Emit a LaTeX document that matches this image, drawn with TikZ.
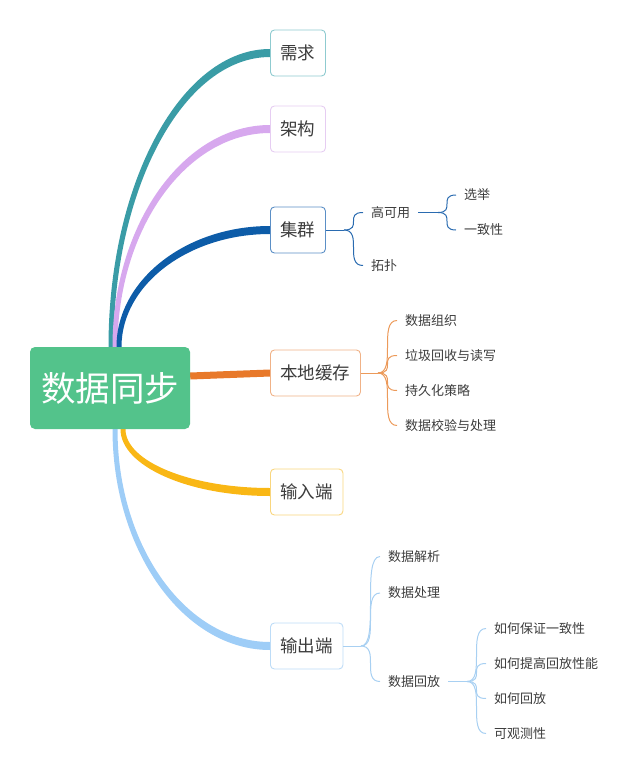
\documentclass[tikz,border=0pt]{standalone}
\usepackage{fontspec}
\setmainfont{Noto Sans CJK SC}
\usetikzlibrary{calc,backgrounds}
\definecolor{rootgreen}{HTML}{53C38B}
\definecolor{cteal}{HTML}{3A9CA6}
\definecolor{cteallt}{HTML}{8FCBD0}
\definecolor{clilac}{HTML}{D7A8EE}
\definecolor{clilaclt}{HTML}{E6CDF2}
\definecolor{cdblue}{HTML}{0D5CA8}
\definecolor{cdbluelt}{HTML}{5B8FC6}
\definecolor{cdbluesub}{HTML}{2A6BB0}
\definecolor{corange}{HTML}{E8792A}
\definecolor{corangelt}{HTML}{F0B287}
\definecolor{corangesub}{HTML}{EC9A5A}
\definecolor{cyellow}{HTML}{F9B715}
\definecolor{cyellowlt}{HTML}{F9D67E}
\definecolor{clblue}{HTML}{9ECDF7}
\definecolor{clbluelt}{HTML}{BDDCF7}
\definecolor{clbluesub}{HTML}{A8D0F2}
\definecolor{textgray}{HTML}{3C3C3C}
% tapered main branch: colour, start coordinate, end anchor, sign (1 = up, -1 = down)
\newcommand\taperbranch[4]{%
  \coordinate (tbp1) at ([xshift=-2.5pt]#2);
  \coordinate (tbp2) at ([xshift=2.5pt]#2);
  \coordinate (tbq1) at ([yshift=#4*4pt]#3);
  \coordinate (tbq2) at ([yshift=-#4*4pt]#3);
  \fill[#1] (tbp1) to[ell] (tbq1) -- (tbq2) to[ellr] (tbp2) -- cycle;
}
\begin{document}
\begin{tikzpicture}[x=1pt,y=-1pt,
  rootbox/.style={fill=rootgreen, rounded corners=5pt, minimum width=160pt, minimum height=82pt,
    text=white, font=\fontsize{34.5}{40}\selectfont, inner sep=0pt},
  topic/.style={draw=#1, line width=0.9pt, fill=white, rounded corners=4pt, minimum height=46pt,
    inner xsep=10pt, anchor=west, text=textgray, font=\fontsize{17.5}{21}\selectfont},
  leaf/.style={anchor=west, inner xsep=8pt, inner ysep=2pt, text=textgray,
    font=\fontsize{13}{16}\selectfont},
  subbr/.style={draw=#1, line width=1pt},
  stembr/.style={draw=#1, line width=1.6pt},
  ell/.style={to path={.. controls ($(\tikztostart)!0.55!(\tikztostart|-\tikztotarget)$)
     and ($(\tikztotarget)!0.55!(\tikztostart|-\tikztotarget)$) .. (\tikztotarget)}},
  ellr/.style={to path={.. controls ($(\tikztostart)!0.55!(\tikztotarget|-\tikztostart)$)
     and ($(\tikztotarget)!0.55!(\tikztotarget|-\tikztostart)$) .. (\tikztotarget)}},
  brace/.style={to path={.. controls (\tikztostart -| \tikztotarget)
     and (\tikztotarget -| \tikztostart) .. (\tikztotarget)}}
]
\useasboundingbox (0,0) rectangle (637,776);

% root and topics
\node[rootbox] (root) at (110,388) {数据同步};
\node[topic=cteallt] (n1) at (270,53) {需求};
\node[topic=clilaclt] (n2) at (270,129) {架构};
\node[topic=cdbluelt] (n3) at (270,230) {集群};
\node[topic=corangelt] (n4) at (270,373) {本地缓存};
\node[topic=cyellowlt] (n5) at (270,492) {输入端};
\node[topic=clbluelt] (n6) at (270,646) {输出端};

% leaves
\node[leaf] (c31) at (363,212.5) {高可用};
\node[leaf] (c32) at (363,265.5) {拓扑};
\node[leaf] (c311) at (456,195) {选举};
\node[leaf] (c312) at (456,230) {一致性};

\node[leaf] (c41) at (397,320.5) {数据组织};
\node[leaf] (c42) at (397,355.5) {垃圾回收与读写};
\node[leaf] (c43) at (397,390.5) {持久化策略};
\node[leaf] (c44) at (397,425.5) {数据校验与处理};

\node[leaf] (c61) at (380,556.5) {数据解析};
\node[leaf] (c62) at (380,593) {数据处理};
\node[leaf] (c63) at (380,681.5) {数据回放};
\node[leaf] (c631) at (486,628.5) {如何保证一致性};
\node[leaf] (c632) at (486,663.5) {如何提高回放性能};
\node[leaf] (c633) at (486,698.5) {如何回放};
\node[leaf] (c634) at (486,733.5) {可观测性};

% fork points
\coordinate (f3) at (344,230);
\coordinate (f31) at (438,212.5);
\coordinate (f4) at (378,373);
\coordinate (f6) at (361,646);
\coordinate (f63) at (467,681.5);

% start points on root
\coordinate (s1) at ([xshift=1pt]root.north);
\coordinate (s2) at ([xshift=5pt]root.north);
\coordinate (s3) at ([xshift=9pt]root.north);
\coordinate (s4) at ([yshift=12pt]root.east);
\coordinate (s5) at ([xshift=13pt]root.south);
\coordinate (s6) at ([xshift=5pt]root.south);

\begin{scope}[on background layer]
  \taperbranch{cteal}{s1}{n1.west}{1}
  \taperbranch{clilac}{s2}{n2.west}{1}
  \taperbranch{cdblue}{s3}{n3.west}{1}
  \draw[corange, line width=7pt] (s4) -- (n4.west);
  \taperbranch{cyellow}{s5}{n5.west}{-1}
  \taperbranch{clblue}{s6}{n6.west}{-1}
\end{scope}

% cluster
\draw[subbr=cdbluesub] (n3.east) -- (f3);
\draw[subbr=cdbluesub] (f3) to[brace] (c31.west);
\draw[subbr=cdbluesub] (f3) to[brace] (c32.west);
\draw[stembr=cdbluesub] (c31.east) -- (f31);
\draw[subbr=cdbluesub] (f31) to[brace] (c311.west);
\draw[subbr=cdbluesub] (f31) to[brace] (c312.west);

% local cache
\draw[subbr=corangesub] (n4.east) -- (f4);
\foreach \c in {c41,c42,c43,c44}
  \draw[subbr=corangesub] (f4) to[brace] (\c.west);

% output
\draw[subbr=clbluesub] (n6.east) -- (f6);
\foreach \c in {c61,c62,c63}
  \draw[subbr=clbluesub] (f6) to[brace] (\c.west);
\draw[stembr=clbluesub] (c63.east) -- (f63);
\foreach \c in {c631,c632,c633,c634}
  \draw[subbr=clbluesub] (f63) to[brace] (\c.west);
\end{tikzpicture}
\end{document}
